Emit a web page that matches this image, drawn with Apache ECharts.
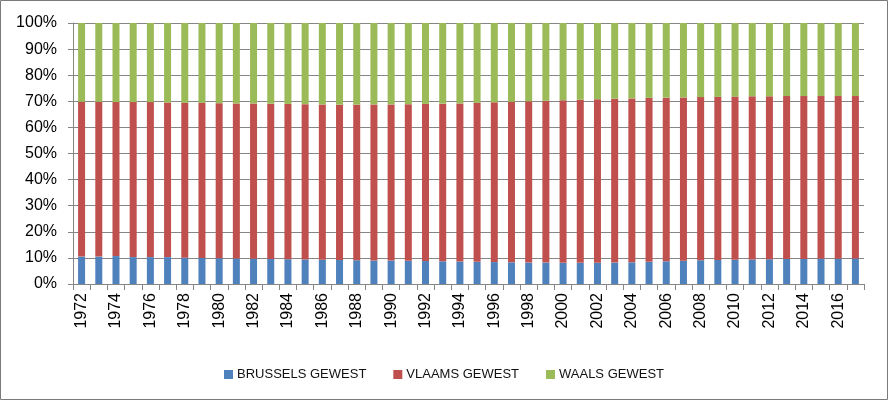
<!DOCTYPE html>
<html>
<head>
<meta charset="utf-8">
<script src="https://cdn.jsdelivr.net/npm/echarts@6/dist/echarts.min.js"></script>
<style>
html,body{margin:0;padding:0;background:#fff;}
#chart{width:888px;height:400px;}
</style>
</head>
<body>
<div id="chart"></div>
<script>
var years = ['1972','1973','1974','1975','1976','1977','1978','1979','1980','1981','1982','1983','1984','1985','1986','1987','1988','1989','1990','1991','1992','1993','1994','1995','1996','1997','1998','1999','2000','2001','2002','2003','2004','2005','2006','2007','2008','2009','2010','2011','2012','2013','2014','2015','2016','2017'];
var brussels = [10.5,10.5,10.7,10.3,10.3,10.3,10.1,10.0,9.9,9.8,9.7,9.6,9.5,9.4,9.3,9.2,9.1,9.0,9.0,8.9,8.8,8.7,8.6,8.5,8.4,8.3,8.2,8.2,8.1,8.1,8.1,8.2,8.3,8.5,8.7,8.9,9.1,9.2,9.3,9.4,9.5,9.6,9.6,9.7,9.7,9.8];
var vlaams = [59.3,59.3,59.0,59.4,59.4,59.2,59.3,59.4,59.4,59.4,59.5,59.5,59.5,59.5,59.5,59.5,59.6,59.8,59.8,60.0,60.2,60.4,60.6,60.9,61.2,61.5,61.8,62.0,62.3,62.5,62.7,62.8,62.8,62.8,62.7,62.6,62.5,62.5,62.5,62.5,62.4,62.4,62.4,62.3,62.3,62.2];
var waals = [30.2,30.2,30.3,30.3,30.3,30.5,30.6,30.6,30.7,30.8,30.8,30.9,31.0,31.1,31.2,31.3,31.3,31.2,31.2,31.1,31.0,30.9,30.8,30.6,30.4,30.2,30.0,29.8,29.6,29.4,29.2,29.0,28.9,28.7,28.6,28.5,28.4,28.3,28.2,28.1,28.1,28.0,28.0,28.0,28.0,28.0];
var yTicks = [0,10,20,30,40,50,60,70,80,90,100];

var chart = echarts.init(document.getElementById('chart'), null, {renderer:'canvas'});
var font = '"Liberation Sans", Arial, sans-serif';
var axisGray = '#868686';
var bw = 7;
chart.setOption({
  animation: false,
  textStyle: {fontFamily: font},
  graphic: [{
    type: 'rect', left: 0, top: 0, z: -1,
    shape: {x: 0.5, y: 0.5, width: 887, height: 399},
    style: {fill: '#fff', stroke: '#7a7a7a', lineWidth: 1}
  }],
  grid: {left: 73, right: 24, top: 23, bottom: 116, containLabel: false},
  legend: {
    data: ['BRUSSELS GEWEST','VLAAMS GEWEST','WAALS GEWEST'],
    left: 'center', top: 363,
    icon: 'rect', itemWidth: 9, itemHeight: 9, itemGap: 27,
    textStyle: {fontSize: 13, color: '#111', fontFamily: font, padding: [0,0,0,-1]}
  },
  xAxis: {
    type: 'category', data: years,
    axisLine: {lineStyle: {color: axisGray, width: 1}},
    axisTick: {show: true, length: 6, lineStyle: {color: axisGray}, interval: 0},
    axisLabel: {interval: 1, rotate: 90, fontSize: 16, color: '#000', margin: 9, fontFamily: font}
  },
  yAxis: {
    type: 'value', min: 0, max: 100, interval: 10,
    axisLine: {show: true, lineStyle: {color: axisGray}},
    axisTick: {show: true, length: 5, lineStyle: {color: axisGray}},
    splitLine: {lineStyle: {color: axisGray, width: 1}},
    axisLabel: {fontSize: 16, color: '#000', margin: 16, fontFamily: font,
      formatter: function(v){ return yTicks.indexOf(v) >= 0 ? v + '%' : ''; }}
  },
  series: [
    {name: 'BRUSSELS GEWEST', type: 'bar', stack: 't', data: brussels, barWidth: bw, itemStyle: {color: '#4F81BD'}},
    {name: 'VLAAMS GEWEST', type: 'bar', stack: 't', data: vlaams, barWidth: bw, itemStyle: {color: '#C0504D'}},
    {name: 'WAALS GEWEST', type: 'bar', stack: 't', data: waals, barWidth: bw, itemStyle: {color: '#9BBB59'}}
  ]
});
</script>
</body>
</html>
